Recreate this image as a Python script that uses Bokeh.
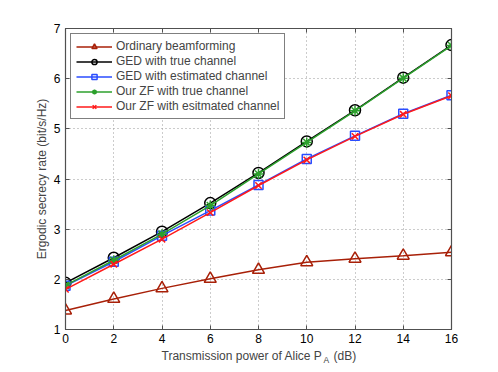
from bokeh.plotting import figure
from bokeh.layouts import column
from bokeh.models import LinearAxis, Range1d, Label, FixedTicker, Legend, CustomJSTickFormatter
from bokeh.embed import file_html
from bokeh.resources import INLINE

x_db = [0, 2, 4, 6, 8, 10, 12, 14, 16]
ordinary = [1.38, 1.61, 1.82, 2.01, 2.19, 2.34, 2.41, 2.47, 2.54]
ged_true = [1.93, 2.43, 2.95, 3.52, 4.12, 4.75, 5.37, 6.02, 6.67]
ged_est = [1.87, 2.35, 2.87, 3.37, 3.88, 4.40, 4.86, 5.30, 5.67]
zf_true = [1.88, 2.38, 2.90, 3.47, 4.10, 4.73, 5.36, 6.01, 6.66]
zf_est = [1.80, 2.30, 2.80, 3.33, 3.87, 4.38, 4.85, 5.29, 5.66]

x_ticks = [0, 2, 4, 6, 8, 10, 12, 14, 16]
y_ticks = [1, 2, 3, 4, 5, 6, 7]

FONT = "Liberation Sans"
AX = "#505050"

p = figure(width=490, height=348, output_backend="svg", toolbar_location=None,
           x_range=Range1d(0, 16), y_range=Range1d(1, 7),
           min_border_left=65, min_border_right=39, min_border_top=28, min_border_bottom=19)
p.outline_line_color = AX
p.outline_line_width = 1.2

for ax in (p.xaxis[0], p.yaxis[0]):
    ax.major_tick_in = 4
    ax.major_tick_out = 0
    ax.minor_tick_in = 0
    ax.minor_tick_out = 0
    ax.axis_line_color = AX
    ax.major_tick_line_color = AX
    ax.major_label_text_font = FONT
    ax.major_label_text_font_size = "12px"
    ax.major_label_text_color = "black"
    ax.axis_label_text_font = FONT
    ax.axis_label_text_font_size = "12px"
    ax.axis_label_text_font_style = "normal"
p.xaxis[0].ticker = FixedTicker(ticks=x_ticks)
p.xaxis[0].major_label_standoff = 4
p.yaxis[0].ticker = FixedTicker(ticks=y_ticks)
p.yaxis[0].axis_label = "Ergodic secrecy rate (bit/s/Hz)"
p.yaxis[0].axis_label_standoff = 2

blank = CustomJSTickFormatter(code="return ''")
top = LinearAxis(ticker=FixedTicker(ticks=x_ticks), major_tick_in=4, major_tick_out=0,
                 minor_tick_in=0, minor_tick_out=0, formatter=blank,
                 major_label_standoff=0,
                 axis_line_color=AX, major_tick_line_color=AX)
right = LinearAxis(ticker=FixedTicker(ticks=y_ticks), major_tick_in=4, major_tick_out=0,
                   minor_tick_in=0, minor_tick_out=0, formatter=blank,
                   major_label_standoff=0,
                   axis_line_color=AX, major_tick_line_color=AX)
p.add_layout(top, "above")
p.add_layout(right, "right")

p.xgrid.ticker = FixedTicker(ticks=x_ticks)
p.ygrid.ticker = FixedTicker(ticks=y_ticks)
for g in (p.xgrid[0], p.ygrid[0]):
    g.grid_line_color = "#999999"
    g.grid_line_dash = "1 3"
    g.grid_line_width = 1

series = [
    ("Ordinary beamforming", ordinary, "#a82008", "triangle", 12),
    ("GED with true channel", ged_true, "black", "circle", 11),
    ("GED with estimated channel", ged_est, "#2a4dff", "square", 9),
    ("Our ZF with true channel", zf_true, "#2ca02c", "asterisk", 10),
    ("Our ZF with esitmated channel", zf_est, "#ff1a1a", "x", 9),
]
items = []
for name, ys, col, mk, sz in series:
    r1 = p.line(x_db, ys, line_color=col, line_width=1.5)
    r2 = p.scatter(x_db, ys, marker=mk, size=sz, line_color=col, line_width=1.5,
                   fill_alpha=0)
    items.append((name, [r1, r2]))

legend = Legend(items=items, location="top_left", margin=5, padding=5, spacing=1,
                glyph_width=36, glyph_height=13, label_height=13, label_standoff=4,
                label_text_font=FONT, label_text_font_size="12px",
                border_line_color="black", border_line_width=1,
                background_fill_alpha=1)
p.add_layout(legend)

# strip below the axes holding the x-axis label with its subscript
# (its frame is aligned with the main frame, so x is measured from the frame's left edge)
p2 = figure(width=490, height=16, output_backend="svg", toolbar_location=None,
            x_axis_type=None, y_axis_type=None, min_border=0,
            x_range=Range1d(0, 1), y_range=Range1d(0, 1))
p2.outline_line_color = None
p2.grid.visible = False
p2.add_layout(Label(x=257, y=9, x_units="screen", y_units="screen",
                    text="Transmission power of Alice P", text_align="right",
                    text_baseline="middle", text_font=FONT, text_font_size="12px"))
p2.add_layout(Label(x=258, y=5, x_units="screen", y_units="screen",
                    text="A", text_align="left",
                    text_baseline="middle", text_font=FONT, text_font_size="8.5px"))
p2.add_layout(Label(x=268, y=9, x_units="screen", y_units="screen",
                    text="(dB)", text_align="left",
                    text_baseline="middle", text_font=FONT, text_font_size="12px"))

layout = column(p, p2, spacing=0)
open("out.html", "w").write(file_html(layout, INLINE))
